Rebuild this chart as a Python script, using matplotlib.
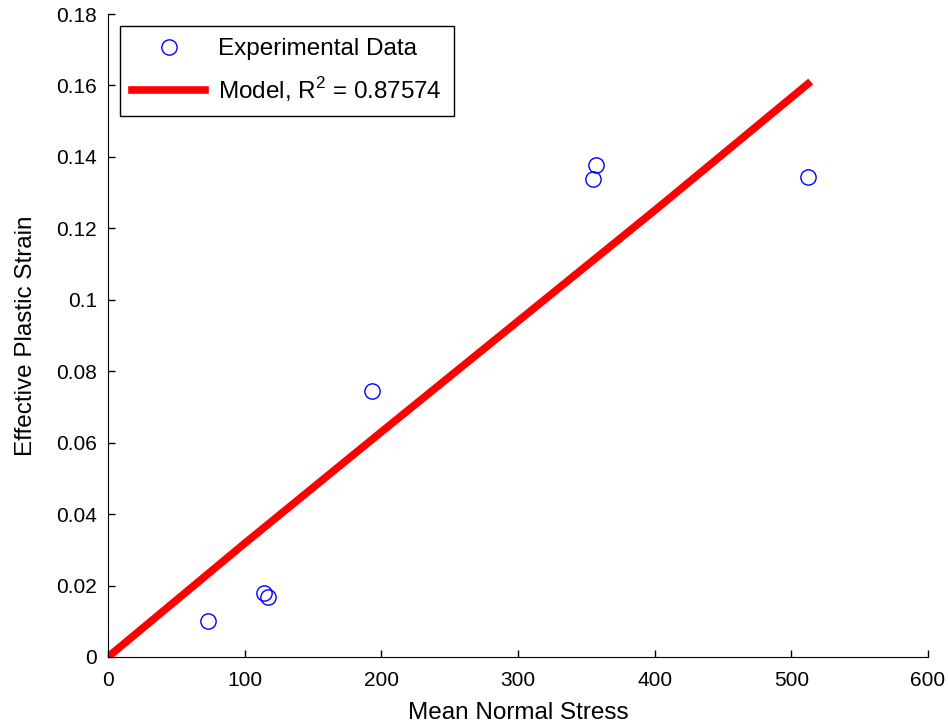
import matplotlib.pyplot as plt
from matplotlib import rcParams

rcParams['font.family'] = ['Liberation Sans', 'DejaVu Sans']
rcParams['font.size'] = 14
rcParams['mathtext.fontset'] = 'custom'
rcParams['mathtext.rm'] = 'Liberation Sans'

# experimental points
stress = [73, 114, 117, 193, 355, 357, 512]
strain = [0.0101, 0.0179, 0.0168, 0.0745, 0.1338, 0.1377, 0.1344]

# model line
model_x = [0, 100, 200, 300, 400, 512]
model_y = [0.0, 0.0318, 0.0630, 0.0940, 0.1250, 0.1604]

fig = plt.figure(figsize=(9.48, 7.27), dpi=100)
ax = fig.add_axes([0.1139, 0.0963, 0.865, 0.8844])

ax.plot(stress, strain, 'o', mfc='none', mec='blue', ms=11, mew=1,
        label='Experimental Data')
ax.plot(model_x, model_y, '-', color='red', lw=5.5,
        label='Model, R$^2$ = 0.87574')

ax.set_xlim(0, 600)
ax.set_ylim(0, 0.18)
ax.set_xticks([0, 100, 200, 300, 400, 500, 600])
ax.set_yticks([0, 0.02, 0.04, 0.06, 0.08, 0.1, 0.12, 0.14, 0.16, 0.18])
ax.set_yticklabels(['0', '0.02', '0.04', '0.06', '0.08', '0.1', '0.12',
                    '0.14', '0.16', '0.18'])
ax.tick_params(direction='in', length=5, width=1, labelsize=15)
ax.tick_params(axis='x', pad=10)
ax.tick_params(axis='y', pad=8)
ax.spines['top'].set_visible(False)
ax.spines['right'].set_visible(False)

ax.set_xlabel('Mean Normal Stress', fontsize=17.5, labelpad=9)
ax.set_ylabel('Effective Plastic Strain', fontsize=17.5, labelpad=14)

leg = ax.legend(loc='upper left', bbox_to_anchor=(0.0146, 0.981),
                borderaxespad=0, fancybox=False, edgecolor='black',
                framealpha=1, fontsize=17.5, handlelength=3.0,
                handletextpad=0.55, borderpad=0.5, labelspacing=0.6)
leg.get_frame().set_linewidth(1)

plt.savefig('out.png')
